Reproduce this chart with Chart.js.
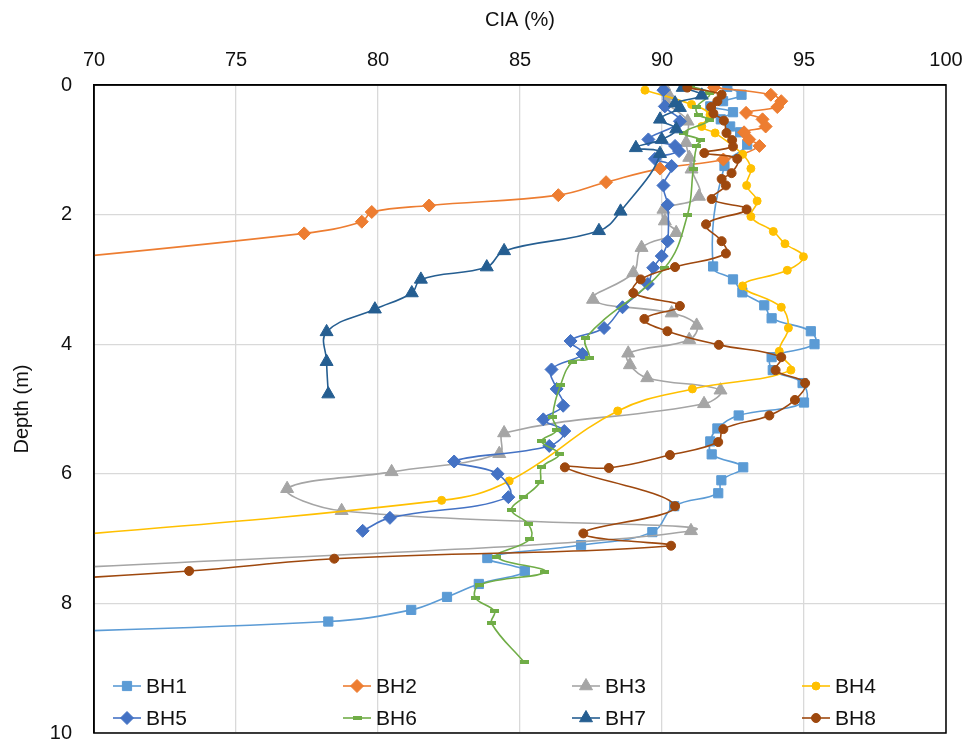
<!DOCTYPE html>
<html>
<head>
<meta charset="utf-8">
<script src="https://cdn.jsdelivr.net/npm/chart.js@4/dist/chart.umd.min.js"></script>
<style>
  html, body { margin: 0; padding: 0; background: #fff; }
  #wrap { width: 969px; height: 745px; }
</style>
</head>
<body>
<div id="wrap"><canvas id="cia" width="969" height="745"></canvas></div>
<script>
// CIA (%) vs depth (m) for eight boreholes
const seriesNames = ['BH1', 'BH2', 'BH3', 'BH4', 'BH5', 'BH6', 'BH7', 'BH8'];
const xTicks = [70, 75, 80, 85, 90, 95, 100];
const yTicks = [0, 2, 4, 6, 8, 10];

const bh1Depth = [0.03, 0.15, 0.25, 0.33, 0.42, 0.53, 0.64, 0.73, 0.92, 1.25, 2.8, 3.0, 3.2, 3.4, 3.6, 3.8, 4.0, 4.2, 4.4, 4.6, 4.9, 5.1, 5.3, 5.5, 5.7, 5.9, 6.1, 6.3, 6.5, 6.9, 7.1, 7.3, 7.5, 7.7, 7.9, 8.1, 8.28, 8.5];
const bh1Cia   = [92.3, 92.8, 92.15, 91.7, 92.5, 92.07, 92.4, 92.75, 93.0, 92.2, 91.8, 92.5, 92.83, 93.6, 93.86, 95.24, 95.37, 93.86, 93.9, 94.95, 95.0, 92.7, 91.95, 91.7, 91.75, 92.86, 92.09, 91.98, 90.43, 89.66, 87.15, 83.85, 85.17, 83.55, 82.43, 81.17, 78.25, 64.0];

const bh2Depth = [0.04, 0.15, 0.25, 0.34, 0.43, 0.53, 0.64, 0.73, 0.84, 0.94, 1.15, 1.29, 1.5, 1.7, 1.86, 1.96, 2.11, 2.29, 2.9];
const bh2Cia   = [91.83, 93.83, 94.2, 94.06, 92.96, 93.54, 93.65, 92.89, 93.07, 93.43, 92.16, 89.93, 88.03, 86.35, 81.8, 79.78, 79.43, 77.4, 63.7];

const bh3Depth = [0.02, 0.17, 0.27, 0.56, 0.89, 1.12, 1.3, 1.72, 1.92, 2.1, 2.28, 2.51, 2.9, 3.31, 3.52, 3.71, 3.93, 4.14, 4.32, 4.52, 4.71, 4.92, 5.37, 5.69, 5.97, 6.23, 6.57, 6.88, 7.55];
const bh3Cia   = [90.08, 90.26, 90.17, 90.9, 90.85, 90.96, 91.04, 91.3, 90.05, 90.1, 90.5, 89.28, 88.99, 87.57, 90.34, 91.22, 90.96, 88.81, 88.87, 89.48, 92.06, 91.48, 84.44, 84.27, 80.48, 76.8, 78.72, 91.02, 65.0];

const bh4Depth = [0.08, 0.3, 0.46, 0.64, 0.74, 1.07, 1.29, 1.55, 1.79, 2.03, 2.26, 2.45, 2.65, 2.86, 3.1, 3.43, 3.75, 4.11, 4.4, 4.69, 5.03, 6.11, 6.41, 7.1];
const bh4Cia   = [89.4, 91.04, 91.69, 91.4, 91.87, 92.84, 93.13, 92.98, 93.35, 93.13, 93.92, 94.33, 94.98, 94.41, 92.84, 94.2, 94.45, 94.13, 94.54, 91.07, 88.44, 84.62, 82.24, 65.3];

const bh5Depth = [0.08, 0.33, 0.56, 0.84, 0.94, 1.02, 1.14, 1.25, 1.55, 1.85, 2.41, 2.64, 2.82, 3.07, 3.43, 3.75, 3.95, 4.15, 4.39, 4.69, 4.95, 5.16, 5.34, 5.57, 5.81, 6.0, 6.36, 6.68, 6.88];
const bh5Cia   = [90.05, 90.1, 90.63, 89.52, 90.46, 90.6, 89.75, 90.34, 90.05, 90.2, 90.2, 89.99, 89.69, 89.5, 88.61, 87.96, 86.78, 87.2, 86.11, 86.29, 86.52, 85.82, 86.56, 86.03, 82.68, 84.21, 84.59, 80.42, 79.46];

const bh6Depth = [0.02, 0.13, 0.34, 0.46, 0.54, 0.74, 0.85, 0.94, 1.3, 2.0, 2.82, 3.9, 4.22, 4.27, 4.63, 5.12, 5.33, 5.5, 5.7, 5.9, 6.13, 6.36, 6.56, 6.78, 7.01, 7.28, 7.51, 7.71, 7.91, 8.12, 8.31, 8.91];
const bh6Cia   = [90.99, 91.69, 91.22, 91.29, 91.69, 90.77, 91.36, 91.22, 91.1, 90.9, 90.1, 87.32, 87.43, 86.85, 86.43, 86.15, 86.29, 85.76, 86.38, 85.76, 85.7, 85.14, 84.7, 85.3, 85.35, 84.18, 85.88, 83.59, 83.42, 84.1, 84.0, 85.15];

const bh7Depth = [0.04, 0.16, 0.28, 0.35, 0.53, 0.68, 0.84, 0.97, 1.06, 1.95, 2.25, 2.56, 2.81, 3.0, 3.21, 3.46, 3.81, 4.27, 4.77];
const bh7Cia   = [90.73, 91.4, 90.46, 90.63, 89.93, 90.5, 89.99, 89.08, 89.93, 88.54, 87.78, 84.44, 83.83, 81.51, 81.19, 79.89, 78.19, 78.19, 78.25];

const bh8Depth = [0.04, 0.15, 0.25, 0.34, 0.44, 0.55, 0.74, 0.85, 0.95, 1.05, 1.14, 1.36, 1.45, 1.55, 1.76, 1.92, 2.15, 2.41, 2.6, 2.81, 3.0, 3.21, 3.41, 3.61, 3.8, 4.01, 4.2, 4.4, 4.6, 4.86, 5.1, 5.31, 5.51, 5.71, 5.91, 5.9, 6.5, 6.92, 7.11, 7.31, 7.5, 7.75];
const bh8Cia   = [90.89, 92.1, 91.95, 91.73, 91.81, 92.18, 92.27, 92.47, 92.5, 91.49, 92.65, 92.45, 92.1, 92.25, 91.75, 92.98, 91.55, 92.1, 92.25, 90.46, 89.25, 88.99, 90.63, 89.38, 90.19, 92.0, 94.2, 94.0, 95.04, 94.68, 93.78, 92.16, 91.98, 90.28, 88.13, 86.58, 90.46, 87.23, 90.32, 78.46, 73.35, 64.0];

const depths = [bh1Depth, bh2Depth, bh3Depth, bh4Depth, bh5Depth, bh6Depth, bh7Depth, bh8Depth];
const cias   = [bh1Cia, bh2Cia, bh3Cia, bh4Cia, bh5Cia, bh6Cia, bh7Cia, bh8Cia];

const colors = ['#5B9BD5', '#ED7D31', '#A5A5A5', '#FFC000', '#4472C4', '#70AD47', '#255E91', '#9E480E'];
const FONT = "'Liberation Sans', Arial, sans-serif";

// small green bar used as the BH6 marker
const dashMark = document.createElement('canvas');
dashMark.width = 9; dashMark.height = 4;
(function () {
  const c = dashMark.getContext('2d');
  c.fillStyle = colors[5];
  c.fillRect(0, 0, 9, 4);
})();

const markers = [
  { pointStyle: 'rect',     radius: 6.5 },
  { pointStyle: 'rectRot',  radius: 6.5 },
  { pointStyle: 'triangle', radius: 7.5 },
  { pointStyle: 'circle',   radius: 4 },
  { pointStyle: 'rectRot',  radius: 6.5 },
  { pointStyle: dashMark,   radius: 5 },
  { pointStyle: 'triangle', radius: 7.5 },
  { pointStyle: 'circle',   radius: 4.5 },
];

const datasets = seriesNames.map((name, i) => ({
  label: name,
  data: cias[i].map((v, k) => ({ x: v, y: depths[i][k] })),
  borderColor: colors[i],
  backgroundColor: colors[i],
  pointBackgroundColor: colors[i],
  pointBorderColor: colors[i],
  pointBorderWidth: 1,
  pointStyle: markers[i].pointStyle,
  pointRadius: markers[i].radius,
  borderWidth: 1.6,
  showLine: true,
  tension: 0.4,
  order: seriesNames.length - i,
}));

// legend drawn inside the plot area, 2 rows x 4 columns, like the original
const insideLegend = {
  id: 'insideLegend',
  afterDraw(chart) {
    const ctx = chart.ctx;
    const colX = [113, 343, 572, 802];
    const rowY = [686, 718];
    ctx.save();
    chart.data.datasets.forEach((ds, i) => {
      const x0 = colX[i % 4];
      const y = rowY[Math.floor(i / 4)];
      ctx.strokeStyle = ds.borderColor;
      ctx.lineWidth = 1.6;
      ctx.beginPath();
      ctx.moveTo(x0, y);
      ctx.lineTo(x0 + 28, y);
      ctx.stroke();
      ctx.fillStyle = ds.backgroundColor;
      ctx.strokeStyle = ds.borderColor;
      ctx.lineWidth = 1;
      Chart.helpers.drawPoint(ctx, { pointStyle: ds.pointStyle, radius: ds.pointRadius, rotation: 0, borderWidth: 1 }, x0 + 14, y);
      ctx.fillStyle = '#111';
      ctx.font = '21px ' + FONT;
      ctx.textAlign = 'left';
      ctx.textBaseline = 'middle';
      ctx.fillText(ds.label, x0 + 33, y + 1);
    });
    ctx.restore();
  }
};

// black frame round the plot area
const plotFrame = {
  id: 'plotFrame',
  afterDraw(chart) {
    const a = chart.chartArea;
    const ctx = chart.ctx;
    ctx.save();
    ctx.strokeStyle = '#000';
    ctx.lineWidth = 1.5;
    ctx.strokeRect(a.left, a.top, a.right - a.left, a.bottom - a.top);
    ctx.restore();
  }
};

new Chart(document.getElementById('cia').getContext('2d'), {
  type: 'scatter',
  data: { datasets },
  plugins: [plotFrame, insideLegend],
  options: {
    responsive: false,
    animation: false,
    layout: { padding: { left: 0, top: 0, right: 23, bottom: 12 } },
    elements: { line: { capBezierPoints: false } },
    plugins: { legend: { display: false }, tooltip: { enabled: false } },
    scales: {
      x: {
        type: 'linear',
        position: 'top',
        min: 70, max: 100,
        afterBuildTicks: (s) => { s.ticks = xTicks.map(v => ({ value: v })); },
        afterFit: (s) => { s.height = 85; s.paddingLeft = 17; s.paddingRight = 17; },
        ticks: { color: '#111', padding: 13, font: { family: FONT, size: 20 } },
        grid: { color: '#D9D9D9', lineWidth: 1.3, drawTicks: false },
        border: { color: '#000', width: 1.5 },
        title: { display: true, text: 'CIA (%)', color: '#111', padding: { top: 8, bottom: 0 }, font: { family: FONT, size: 20 } }
      },
      y: {
        type: 'linear',
        reverse: true,
        min: 0, max: 10,
        afterBuildTicks: (s) => { s.ticks = yTicks.map(v => ({ value: v })); },
        afterFit: (s) => { s.width = 94; s.paddingTop = 12; s.paddingBottom = 12; },
        ticks: { color: '#111', padding: 22, font: { family: FONT, size: 20 } },
        grid: { color: '#D9D9D9', lineWidth: 1.3, drawTicks: false },
        border: { color: '#000', width: 1.5 },
        title: { display: true, text: 'Depth (m)', color: '#111', padding: { top: 10, bottom: 0 }, font: { family: FONT, size: 20 } }
      }
    }
  }
});
</script>
</body>
</html>
